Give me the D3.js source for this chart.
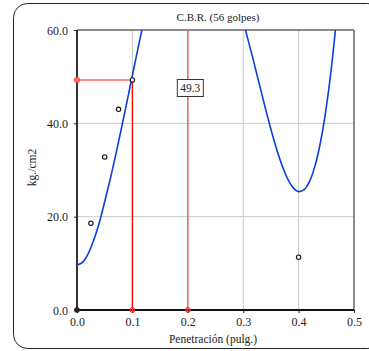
<!DOCTYPE html>
<html><head><meta charset="utf-8">
<script src="https://cdn.jsdelivr.net/npm/d3@7"></script>
<style>html,body{margin:0;padding:0;background:#fff;}svg{display:block;}
svg text{font-family:"Liberation Serif","Times New Roman",serif;}</style>
</head><body>
<svg id="c" width="369" height="351"></svg>
<script>
const title = "C.B.R. (56 golpes)";
const xTitle = "Penetración (pulg.)";
const yTitle = "kg./cm2";
const xTicks = [0, 0.1, 0.2, 0.3, 0.4, 0.5];
const yTicks = [0, 20, 40, 60];
// measured points
const pointX = [0.025, 0.05, 0.075, 0.1, 0.4];
const pointY = [18.6, 32.8, 43.0, 49.3, 11.3];
// trend curve (values above 60 run off the top of the plot)
const curveX = [0, 0.01, 0.02, 0.03, 0.04, 0.05, 0.06, 0.07, 0.08, 0.09, 0.10, 0.11, 0.12, 0.13, 0.20,
                0.29, 0.30, 0.31, 0.32, 0.33, 0.34, 0.35, 0.36, 0.37, 0.38, 0.39, 0.40, 0.41, 0.42, 0.43, 0.44, 0.45, 0.46, 0.47];
const curveY = [9.6, 10.2, 12.0, 14.9, 18.6, 23.2, 28.05, 33.3, 38.8, 44.5, 50.3, 56.0, 61.6, 67.0, 90.0,
                65.5, 61.7, 57.35, 52.74, 47.97, 43.24, 38.72, 34.59, 31.01, 28.17, 26.23, 25.38, 25.78, 27.61, 31.05, 36.27, 43.44, 52.74, 64.35];
const cbrValue = 49.3;
const refX = [0.1, 0.2];

const svg = d3.select("#c");
const font = "'Liberation Serif','Times New Roman',serif";
const x = d3.scaleLinear().domain([0, 0.5]).range([77, 354]);
const y = d3.scaleLinear().domain([0, 60]).range([310, 30]);

// outer frame
svg.append("rect").attr("x", 13.5).attr("y", 3.5).attr("width", 368).attr("height", 345)
  .attr("rx", 14).attr("fill", "none").attr("stroke", "#222").attr("stroke-width", 1);

svg.append("text").attr("x", 218).attr("y", 21).attr("text-anchor", "middle")
  .style("font-family", font).attr("font-size", 11).attr("fill", "#222").text(title);

// grid
const grid = svg.append("g");
grid.selectAll("line.v").data(xTicks.slice(1, -1)).join("line")
  .attr("x1", d => x(d)).attr("x2", d => x(d)).attr("y1", y(60)).attr("y2", y(0))
  .attr("stroke", "#c8c8c8").attr("stroke-width", 1);
grid.selectAll("line.h").data(yTicks.slice(1, -1)).join("line")
  .attr("x1", x(0)).attr("x2", x(0.5)).attr("y1", d => y(d)).attr("y2", d => y(d))
  .attr("stroke", "#c8c8c8").attr("stroke-width", 1);

// frame of plot
svg.append("line").attr("x1", x(0)).attr("x2", x(0.5)).attr("y1", y(60)).attr("y2", y(60))
  .attr("stroke", "#666").attr("stroke-width", 1.5);
svg.append("line").attr("x1", x(0.5)).attr("x2", x(0.5)).attr("y1", y(60)).attr("y2", y(0))
  .attr("stroke", "#666").attr("stroke-width", 1.5);

// axes
const xAxis = svg.append("g").attr("transform", `translate(0,${y(0)})`)
  .call(d3.axisBottom(x).tickValues(xTicks).tickFormat(d3.format(".1f")).tickSize(3).tickPadding(4));
const yAxis = svg.append("g").attr("transform", `translate(${x(0)},0)`)
  .call(d3.axisLeft(y).tickValues(yTicks).tickFormat(d3.format(".1f")).tickSize(3).tickPadding(6));
[xAxis, yAxis].forEach(g => {
  g.attr("font-family", null);
  g.selectAll("text").style("font-family", font).attr("font-size", 12).attr("fill", "#222");
  g.selectAll(".tick line").attr("stroke", "#222");
});
xAxis.select(".domain").attr("stroke", "#111").attr("stroke-width", 2).attr("d", `M${x(0)},0H${x(0.5)}`);
yAxis.select(".domain").attr("stroke", "#333").attr("stroke-width", 2).attr("d", `M0,${y(0)}V${y(60)}`);
yAxis.selectAll(".tick text").attr("dy", "0.35em");

svg.append("text").attr("x", 213).attr("y", 343).attr("text-anchor", "middle")
  .style("font-family", font).attr("font-size", 11.5).attr("fill", "#222").text(xTitle);
svg.append("text").attr("transform", `translate(36,${167.5}) rotate(-90)`).attr("text-anchor", "middle")
  .style("font-family", font).attr("font-size", 11.5).attr("fill", "#222").text(yTitle);

// clip
svg.append("clipPath").attr("id", "clip").append("rect")
  .attr("x", x(0)).attr("y", y(60)).attr("width", x(0.5) - x(0)).attr("height", y(0) - y(60));

// reference lines
svg.append("line").attr("x1", x(refX[0])).attr("x2", x(refX[0])).attr("y1", y(0)).attr("y2", y(cbrValue))
  .attr("stroke", "#ff0000").attr("stroke-width", 1.3);
svg.append("line").attr("x1", x(0)).attr("x2", x(refX[0])).attr("y1", y(cbrValue)).attr("y2", y(cbrValue))
  .attr("stroke", "#ff6a6a").attr("stroke-width", 1.5);
svg.append("line").attr("x1", x(refX[1])).attr("x2", x(refX[1])).attr("y1", y(0)).attr("y2", y(60))
  .attr("stroke", "#ff5050").attr("stroke-width", 1.3);

// curve
const line = d3.line().x((d, i) => x(curveX[i])).y(d => y(d)).curve(d3.curveCatmullRom.alpha(0.5));
svg.append("path").attr("clip-path", "url(#clip)").attr("d", line(curveY))
  .attr("fill", "none").attr("stroke", "#0a3fdc").attr("stroke-width", 1.6);

// markers
svg.append("circle").attr("cx", x(0)).attr("cy", y(0)).attr("r", 2.8).attr("fill", "#222");
svg.append("circle").attr("cx", x(0)).attr("cy", y(cbrValue)).attr("r", 2.6).attr("fill", "#ff6a6a").attr("stroke", "#ff3030").attr("stroke-width", 0.8);
refX.forEach(v => {
  svg.append("circle").attr("cx", x(v)).attr("cy", y(0)).attr("r", 2.4).attr("fill", "none").attr("stroke", "#ff2020").attr("stroke-width", 1);
  svg.append("path").attr("d", `M${x(v)-2.4},${y(0)}H${x(v)+2.4}M${x(v)},${y(0)-2.4}V${y(0)+2.4}`).attr("stroke", "#ff2020").attr("stroke-width", 1);
});
svg.selectAll("circle.pt").data(pointX).join("circle").attr("class", "pt")
  .attr("cx", d => x(d)).attr("cy", (d, i) => y(pointY[i])).attr("r", 2.2)
  .attr("fill", "#fff").attr("stroke", "#111").attr("stroke-width", 1.1);

// value label
const lx = x(refX[1]) + 2, ly = 88;
svg.append("rect").attr("x", lx - 12.5).attr("y", ly - 8.5).attr("width", 26).attr("height", 17)
  .attr("fill", "#fff").attr("stroke", "#333").attr("stroke-width", 1);
svg.append("text").attr("x", lx + 0.5).attr("y", ly + 4).attr("text-anchor", "middle")
  .style("font-family", font).attr("font-size", 11.5).attr("fill", "#222").text(cbrValue.toFixed(1));
</script>
</body></html>
